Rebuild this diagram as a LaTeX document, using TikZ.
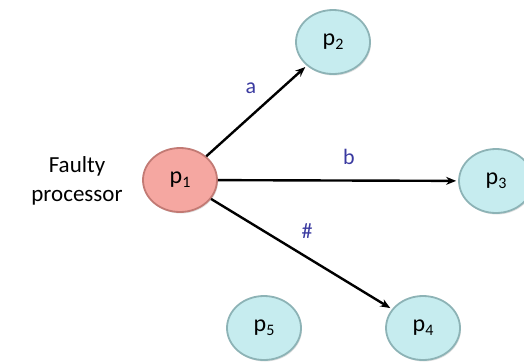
\documentclass[tikz,border=0pt]{standalone}
\usepackage{fontspec}
\setmainfont{Carlito}
\usetikzlibrary{shapes.geometric,arrows.meta,shadows}
\definecolor{redfill}{HTML}{F5A7A1}
\definecolor{rededge}{HTML}{C27A74}
\definecolor{cyanfill}{HTML}{C6ECEF}
\definecolor{cyanedge}{HTML}{8DB3B6}
\definecolor{lblblue}{HTML}{3A3AA0}
\newcommand{\pname}[1]{p\raisebox{-4pt}{\fontsize{16}{16}\selectfont #1}}
\tikzset{
  proc/.style={ellipse, minimum width=74pt, minimum height=64pt, inner sep=0pt,
    fill=cyanfill, draw=cyanedge, line width=1.8pt, font=\fontsize{24}{28}\selectfont,
    drop shadow={shadow xshift=1pt, shadow yshift=-1.5pt, opacity=0.25}},
  faulty/.style={proc, fill=redfill, draw=rededge},
  msg/.style={-{Stealth[length=10pt,width=8pt]}, line width=2.4pt, black, shorten >=2pt},
  lbl/.style={text=lblblue, font=\fontsize{22}{26}\selectfont}
}
\begin{document}
\begin{tikzpicture}[x=1pt,y=-1pt]
\useasboundingbox (0,0) rectangle (524,362);
\node[faulty] (p1) at (180,180) {\pname{1}};
\node[proc] (p2) at (333,42) {\pname{2}};
\node[proc] (p3) at (496,181) {\pname{3}};
\node[proc] (p4) at (423,328) {\pname{4}};
\node[proc] (p5) at (264,328) {\pname{5}};
\node[font=\fontsize{23}{29}\selectfont, align=center] (lab) at (77,181) {Faulty\\processor};
\draw[msg] (p1) -- (p2);
\draw[msg] (p1) -- (p3);
\draw[msg] (p1) -- (p4);
\node[lbl] (la) at (251,88) {a};
\node[lbl] (lb) at (349,157) {b};
\node[lbl] (lh) at (307,231) {\#};
\end{tikzpicture}
\end{document}
